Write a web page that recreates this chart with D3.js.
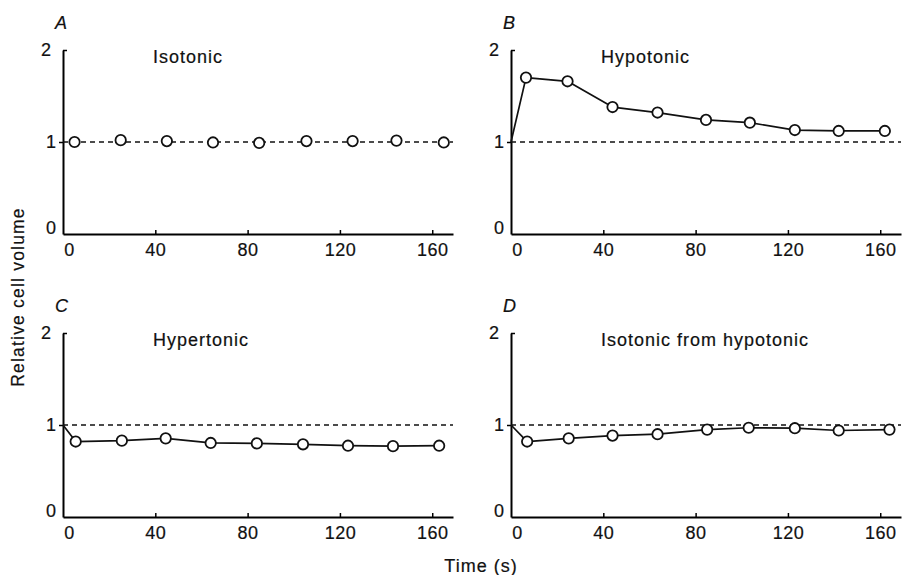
<!DOCTYPE html>
<html>
<head>
<meta charset="utf-8">
<script src="https://cdn.jsdelivr.net/npm/d3@7"></script>
<style>
    body { margin: 0; background: #fff; }
    svg { display: block; }
    text { font-family: "Liberation Sans", Arial, Helvetica, sans-serif; fill: #111; stroke: #111; stroke-width: 0.2px; }
</style>
</head>
<body>
<svg id="chart" width="904" height="575"></svg>
<script>
// values
var panelLetters = ["A", "B", "C", "D"];
var panelTitles = ["Isotonic", "Hypotonic", "Hypertonic", "Isotonic from hypotonic"];
var xTicks = [0, 40, 80, 120, 160];
var yTicks = [0, 1, 2];

var timeA = [5, 25, 45, 65, 85, 105.5, 125.5, 144.5, 165];
var volA = [1.0, 1.02, 1.01, 0.995, 0.99, 1.01, 1.01, 1.015, 0.995];

var timeB = [6.5, 24.5, 44, 63.5, 84.5, 103.5, 123, 142, 162];
var volB = [1.70, 1.66, 1.38, 1.32, 1.24, 1.21, 1.13, 1.12, 1.12];

var timeC = [5.5, 25.5, 44.5, 64, 84, 104, 123.5, 143, 163];
var volC = [0.82, 0.83, 0.855, 0.805, 0.80, 0.79, 0.775, 0.77, 0.775];

var timeD = [7, 25, 44, 63.5, 85, 103, 123, 142, 164];
var volD = [0.82, 0.855, 0.885, 0.90, 0.95, 0.97, 0.965, 0.94, 0.95];

// B, C and D start from the control volume at time 0
var startTime = 0, startVol = 1, controlVol = 1;

var svg = d3.select("#chart");

var panels = [
    {t: timeA, v: volA, left: 63, top: 50, joined: false},
    {t: timeB, v: volB, left: 511, top: 50, joined: true},
    {t: timeC, v: volC, left: 63, top: 333, joined: true},
    {t: timeD, v: volD, left: 511, top: 333, joined: true}
];

panels.forEach(function(p, i) {
    drawPanel(p, i);
});

function drawPanel(p, i) {
    var width = 390, height = 184;
    var x = d3.scaleLinear().domain([0, 169]).range([p.left, p.left + width]),
        y = d3.scaleLinear().domain([0, 2]).range([p.top + height, p.top]);
    var g = svg.append("g");

    // x axis, small ticks pointing up
    var xa = g.append("g")
        .attr("transform", "translate(0," + y(0) + ")")
        .call(d3.axisBottom(x).tickValues(xTicks).tickSize(-4).tickSizeOuter(0).tickPadding(9));
    xa.select(".domain").attr("stroke-width", 2);
    xa.selectAll(".tick line").attr("stroke-width", 1.5)
        .filter(function(d) { return d === 0; }).remove();
    xa.selectAll(".tick text")
        .attr("font-size", 18)
        .style("letter-spacing", "0.5px")
        .attr("fill", "#111")
        .filter(function(d) { return d === 0; }).attr("dx", 6);

    // y axis
    var ya = g.append("g")
        .attr("transform", "translate(" + x(0) + ",0)")
        .call(d3.axisLeft(y).tickValues(yTicks).tickFormat(d3.format("d"))
            .tickSize(4).tickSizeOuter(0).tickPadding(3));
    ya.select(".domain").attr("stroke-width", 2);
    ya.selectAll(".tick line").attr("stroke-width", 1.5);
    ya.selectAll(".tick line").filter(function(d) { return d === 0; }).remove();
    ya.selectAll(".tick line").filter(function(d) { return d === 2; }).attr("x2", 4);
    ya.selectAll(".tick text")
        .attr("font-size", 18)
        .attr("fill", "#111")
        .attr("dx", function(d) { return d === 2 ? -5 : 0; })
        .attr("dy", function(d) { return d === 0 ? "-0.05em" : "0.32em"; });

    // control volume
    g.append("line")
        .attr("x1", x(0))
        .attr("x2", x(169))
        .attr("y1", y(controlVol))
        .attr("y2", y(controlVol))
        .attr("stroke", "#111")
        .attr("stroke-width", 1.5)
        .attr("stroke-dasharray", "5,4");

    var pts = p.t.map(function(t, k) { return [t, p.v[k]]; });

    if (p.joined) {
        var line = d3.line()
            .x(function(d) { return x(d[0]); })
            .y(function(d) { return y(d[1]); });
        g.append("path")
            .datum([[startTime, startVol]].concat(pts))
            .attr("fill", "none")
            .attr("stroke", "#111")
            .attr("stroke-width", 1.7)
            .attr("stroke-linejoin", "round")
            .attr("d", line);
    }

    g.selectAll("circle")
        .data(pts)
        .enter().append("circle")
        .attr("cx", function(d) { return x(d[0]); })
        .attr("cy", function(d) { return y(d[1]); })
        .attr("r", 5.2)
        .attr("fill", "#fff")
        .attr("stroke", "#111")
        .attr("stroke-width", 1.8);

    g.append("text")
        .attr("x", x(0) - 8)
        .attr("y", y(2) - 21)
        .attr("font-size", 18)
        .attr("font-style", "italic")
        .text(panelLetters[i]);

    g.append("text")
        .attr("x", x(0) + 90)
        .attr("y", y(2) + 13)
        .attr("font-size", 18)
        .style("letter-spacing", "1px")
        .text(panelTitles[i]);
}

svg.append("text")
    .attr("transform", "translate(24,297) rotate(-90)")
    .attr("text-anchor", "middle")
    .attr("font-size", 17.5)
    .style("letter-spacing", "1.2px")
    .text("Relative cell volume");

svg.append("text")
    .attr("x", 481)
    .attr("y", 572)
    .attr("text-anchor", "middle")
    .attr("font-size", 18)
    .style("letter-spacing", "1px")
    .text("Time (s)");
</script>
</body>
</html>
